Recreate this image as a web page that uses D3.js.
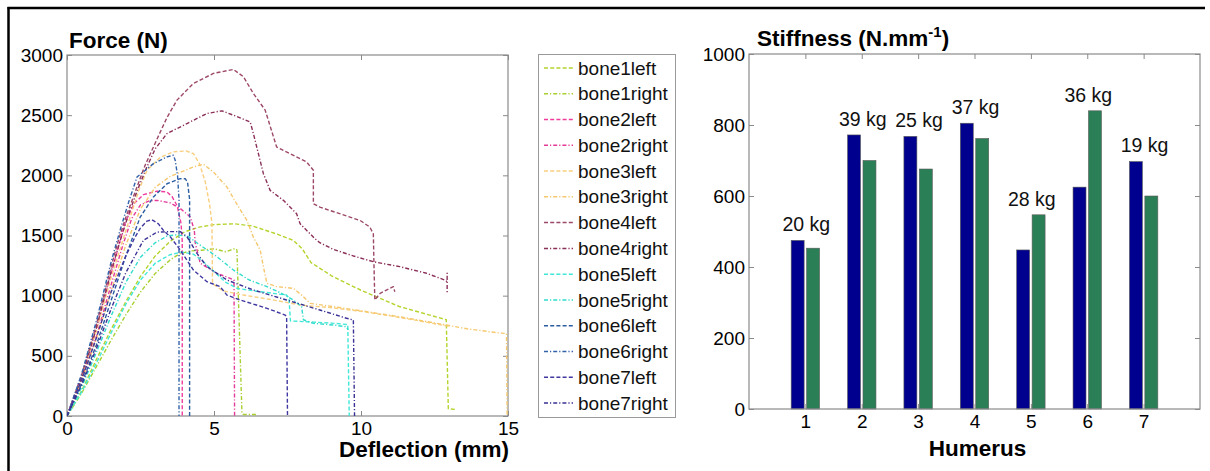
<!DOCTYPE html>
<html><head><meta charset="utf-8">
<script src="https://cdn.jsdelivr.net/npm/d3@7"></script>
<style>
html,body{margin:0;padding:0;background:#fff;}
svg{display:block;font-family:"Liberation Sans",Arial,sans-serif;}
</style></head>
<body>
<svg id="chart" width="1210" height="471"></svg>
<script>
// ---------------- DATA ----------------
const deflectionTicks = [0, 5, 10, 15];
const forceTicks = [0, 500, 1000, 1500, 2000, 2500, 3000];
const boneNames = ["bone1left","bone1right","bone2left","bone2right","bone3left","bone3right","bone4left","bone4right","bone5left","bone5right","bone6left","bone6right","bone7left","bone7right"];

// [deflection (mm), force (N)]
const bone1left = [[0,0],[0.5,210],[1,470],[1.5,720],[2,950],[2.5,1160],[3,1330],[3.5,1450],[4,1530],[4.5,1570],[5,1590],[5.7,1597],[6.3,1580],[7.1,1515],[7.7,1460],[8.0,1390],[8.3,1275],[9.0,1165],[10,1045],[11.3,910],[12.9,800],[12.97,60],[13.2,55]];
const bone1right = [[0,0],[0.5,190],[1,410],[1.5,630],[2,840],[2.5,1030],[3,1185],[3.5,1295],[3.8,1345],[4.2,1372],[4.6,1378],[5.0,1390],[5.4,1365],[5.72,1392],[5.78,1380],[5.95,25],[6.0,12],[6.47,12]];
const bone2left = [[0,0],[0.5,330],[1,720],[1.5,1180],[1.8,1450],[2.0,1620],[2.3,1770],[2.6,1840],[3.06,1868],[3.4,1862],[3.57,1825],[3.75,1745],[3.88,1600],[3.92,1450],[3.92,0]];
const bone2right = [[0,0],[0.5,300],[1,660],[1.5,1090],[1.9,1420],[2.2,1640],[2.5,1755],[2.8,1788],[3.06,1792],[3.5,1772],[3.85,1725],[4.19,1655],[4.33,1545],[4.36,1440],[4.53,1270],[5.1,1186],[5.55,1144],[5.68,1130],[5.70,0]];
const bone3left = [[0,0],[0.5,320],[1,710],[1.5,1150],[2.0,1540],[2.45,1880],[2.72,2040],[3.17,2150],[3.62,2195],[4.05,2203],[4.3,2180],[4.5,2100],[4.7,1950],[4.85,1760],[4.93,1600],[4.95,1100],[5.3,1040],[6.0,1005],[7.0,965],[8.0,920],[9.0,900],[10,870],[11,832],[12,790],[13,745]];
const bone3right = [[0,0],[0.5,290],[1,640],[1.5,1040],[2,1420],[2.5,1720],[3.0,1900],[3.5,1990],[4.0,2040],[4.3,2070],[4.64,2092],[4.98,2028],[5.44,1903],[5.77,1764],[6.12,1625],[6.34,1486],[6.57,1380],[6.68,1241],[6.8,1103],[7.13,1075],[7.7,1061],[8.04,992],[8.27,936],[9.06,909],[10.2,867],[11.3,825],[12.46,775],[13.6,725],[14.7,690],[14.95,685],[14.97,0]];
const bone4left = [[0,0],[0.5,340],[1,760],[1.5,1240],[1.76,1470],[2.0,1650],[2.3,1850],[2.65,2080],[3.06,2300],[3.4,2480],[3.74,2625],[4.3,2764],[4.98,2847],[5.66,2880],[6.0,2820],[6.34,2680],[6.74,2542],[7.13,2236],[7.59,2180],[8.15,2111],[8.38,2042],[8.38,1764],[8.6,1736],[9.97,1625],[10.3,1570],[10.42,1514],[10.44,1269],[10.47,964],[10.65,1019],[11.1,1075],[11.15,1033]];
const bone4right = [[0,0],[0.5,320],[1,730],[1.5,1200],[1.8,1450],[2.1,1680],[2.4,1880],[2.7,2060],[3.0,2220],[3.4,2347],[4.08,2430],[4.76,2514],[5.27,2536],[5.66,2500],[6.23,2444],[6.34,2347],[6.68,2014],[6.91,1875],[7.36,1792],[7.81,1681],[7.93,1597],[8.44,1472],[8.6,1440],[9.06,1385],[9.74,1330],[10.42,1282],[11.32,1241],[12.23,1186],[12.85,1130],[12.93,1116],[12.93,1186],[12.93,1020]];
const bone5left = [[0,0],[0.5,200],[1,440],[1.5,690],[2,930],[2.5,1130],[3,1270],[3.5,1340],[3.9,1362],[4.3,1345],[4.6,1290],[5.0,1200],[5.4,1110],[5.8,1060],[6.5,1035],[7.47,1005],[7.55,980],[7.6,790],[8.4,780],[9.0,772],[9.55,760],[9.6,0]];
const bone5right = [[0,0],[0.5,240],[1,530],[1.5,830],[2,1110],[2.5,1320],[3,1440],[3.4,1495],[3.7,1505],[4.1,1495],[4.53,1420],[5.1,1324],[5.66,1213],[6.2,1130],[6.8,1075],[7.3,1020],[7.7,964],[7.98,909],[8.04,800],[8.38,770],[9.06,756],[9.5,742],[9.57,715]];
const bone6left = [[0,0],[0.5,270],[1,590],[1.5,960],[2.0,1330],[2.49,1653],[2.94,1820],[3.4,1930],[3.85,1972],[4.02,1972],[4.1,1944],[4.17,1800],[4.17,0]];
const bone6right = [[0,0],[0.5,350],[1,790],[1.5,1280],[1.8,1540],[2.1,1780],[2.38,1986],[2.94,2097],[3.4,2153],[3.62,2167],[3.68,2125],[3.76,2000],[3.81,1800],[3.81,0]];
const bone7left = [[0,0],[0.5,300],[1,650],[1.5,1030],[2,1330],[2.3,1480],[2.49,1560],[2.72,1620],[2.89,1631],[3.11,1597],[3.28,1542],[3.4,1514],[3.51,1490],[3.85,1380],[4.3,1213],[4.76,1116],[5.21,1075],[5.44,1005],[5.89,964],[6.8,895],[7.42,839],[7.47,825],[7.5,0]];
const bone7right = [[0,0],[0.5,260],[1,560],[1.5,890],[2,1190],[2.6,1460],[3.06,1528],[3.5,1532],[3.85,1532],[4.08,1490],[4.42,1352],[4.76,1241],[5.44,1130],[6.34,1047],[7.47,964],[8.6,881],[9.51,812],[9.74,798],[9.78,0]];

const humerus = [1, 2, 3, 4, 5, 6, 7];
const stiffnessLeft = [475, 772, 768, 805, 448, 625, 697];
const stiffnessRight = [453, 700, 676, 762, 547, 840, 600];
const massLabels = ["20 kg", "39 kg", "25 kg", "37 kg", "28 kg", "36 kg", "19 kg"];
const stiffnessTicks = [0, 200, 400, 600, 800, 1000];

// ---------------- STYLES ----------------
const boneColors = ["#b4d42c","#a8d030","#f03c9c","#e43a98","#f8cf7e","#f5c86e","#9c4868","#8a2f58","#40e8d8","#30dccc","#2c5ca0","#3262aa","#4038a0","#3a3294"];
const dashed = "4,2.2";
const dashDot = "4,2,1.2,2";
const axisGray = "#8a8a8a";

const curves = [bone1left,bone1right,bone2left,bone2right,bone3left,bone3right,bone4left,bone4right,bone5left,bone5right,bone6left,bone6right,bone7left,bone7right];

const svg = d3.select("#chart");

// outer frame
svg.append("line").attr("x1",8.5).attr("x2",8.5).attr("y1",7).attr("y2",471).attr("stroke","#000").attr("stroke-width",2.5);
svg.append("line").attr("x1",7.5).attr("x2",1205).attr("y1",8).attr("y2",8).attr("stroke","#000").attr("stroke-width",2.5);

// ---------------- LEFT CHART ----------------
const L = {x0:67, x1:508, y0:55, y1:416};
const xL = d3.scaleLinear().domain([0,15]).range([L.x0,L.x1]);
const yL = d3.scaleLinear().domain([0,3000]).range([L.y1,L.y0]);

const gL = svg.append("g");
gL.append("clipPath").attr("id","clipL").append("rect")
  .attr("x",L.x0).attr("y",L.y0-2).attr("width",L.x1-L.x0+2).attr("height",L.y1-L.y0+2);

gL.append("rect").attr("x",L.x0).attr("y",L.y0).attr("width",L.x1-L.x0).attr("height",L.y1-L.y0)
  .attr("fill","none").attr("stroke",axisGray).attr("stroke-width",1.2);

const axBL = gL.append("g").attr("transform",`translate(0,${L.y1})`)
  .call(d3.axisBottom(xL).tickValues(deflectionTicks).tickSize(-5).tickPadding(5).tickFormat(d3.format("d")));
const axTL = gL.append("g").attr("transform",`translate(0,${L.y0})`)
  .call(d3.axisTop(xL).tickValues(deflectionTicks).tickSize(-5).tickFormat(""));
const axLL = gL.append("g").attr("transform",`translate(${L.x0},0)`)
  .call(d3.axisLeft(yL).tickValues(forceTicks).tickSize(-5).tickPadding(4).tickFormat(d3.format("d")));
const axRL = gL.append("g").attr("transform",`translate(${L.x1},0)`)
  .call(d3.axisRight(yL).tickValues(forceTicks).tickSize(-5).tickFormat(""));

[axBL,axTL,axLL,axRL].forEach(a=>{
  a.select(".domain").remove();
  a.selectAll(".tick line").attr("stroke",axisGray).attr("stroke-width",1);
  a.selectAll(".tick text").attr("fill","#000").style("font-size","19px").style("font-family","'Liberation Sans',Arial,sans-serif");
});
axBL.selectAll(".tick text").attr("dy","0.7em").attr("y",6);

const line = d3.line().x(d=>xL(d[0])).y(d=>yL(d[1]));
const curveG = gL.append("g").attr("clip-path","url(#clipL)");
curves.forEach((c,i)=>{
  curveG.append("path").datum(c).attr("d",line)
    .attr("fill","none").attr("stroke",boneColors[i]).attr("stroke-width",1.4)
    .attr("stroke-dasharray", i%2===0 ? dashed : dashDot)
    .attr("stroke-linejoin","round");
});

gL.append("text").attr("x",69).attr("y",48).text("Force (N)")
  .style("font-size","22.5px").style("font-weight","bold");
gL.append("text").attr("x",509).attr("y",457).attr("text-anchor","end").text("Deflection (mm)")
  .style("font-size","22.5px").style("font-weight","bold");

// legend
const lg = svg.append("g");
lg.append("rect").attr("x",538.5).attr("y",54.5).attr("width",137).attr("height",363)
  .attr("fill","#fff").attr("stroke","#9a9a9a").attr("stroke-width",1);
const legY = d3.scaleLinear().domain([0,13]).range([68,403]);
boneNames.forEach((n,i)=>{
  const y = legY(i);
  lg.append("line").attr("x1",544).attr("x2",573).attr("y1",y).attr("y2",y)
    .attr("stroke",boneColors[i]).attr("stroke-width",1.5)
    .attr("stroke-dasharray", i%2===0 ? dashed : dashDot);
  lg.append("text").attr("x",578).attr("y",y).attr("dy","0.35em").text(n)
    .style("font-size","19px").attr("fill","#111");
});

// ---------------- RIGHT CHART ----------------
const R = {x0:749, x1:1200, y0:54, y1:409};
const xR = d3.scaleLinear().domain([0,8]).range([R.x0,R.x1]);
const yR = d3.scaleLinear().domain([0,1000]).range([R.y1,R.y0]);
const gR = svg.append("g");

const barW = 0.23, off = 0.137;
gR.selectAll("rect.bl").data(humerus).enter().append("rect")
  .attr("x",d=>xR(d-off-barW/2)).attr("width",xR(barW)-xR(0))
  .attr("y",(d,i)=>yR(stiffnessLeft[i])).attr("height",(d,i)=>yR(0)-yR(stiffnessLeft[i]))
  .attr("fill","#00008f").attr("stroke","#5a5a5a").attr("stroke-width",0.6);
gR.selectAll("rect.gr").data(humerus).enter().append("rect")
  .attr("x",d=>xR(d+off-barW/2)).attr("width",xR(barW)-xR(0))
  .attr("y",(d,i)=>yR(stiffnessRight[i])).attr("height",(d,i)=>yR(0)-yR(stiffnessRight[i]))
  .attr("fill","#2b7f57").attr("stroke","#5a5a5a").attr("stroke-width",0.6);

gR.append("rect").attr("x",R.x0).attr("y",R.y0).attr("width",R.x1-R.x0).attr("height",R.y1-R.y0)
  .attr("fill","none").attr("stroke",axisGray).attr("stroke-width",1.2);

const axBR = gR.append("g").attr("transform",`translate(0,${R.y1})`)
  .call(d3.axisBottom(xR).tickValues(humerus).tickSize(-5).tickPadding(5).tickFormat(d3.format("d")));
const axTR = gR.append("g").attr("transform",`translate(0,${R.y0})`)
  .call(d3.axisTop(xR).tickValues(humerus).tickSize(-5).tickFormat(""));
const axLR = gR.append("g").attr("transform",`translate(${R.x0},0)`)
  .call(d3.axisLeft(yR).tickValues(stiffnessTicks).tickSize(-5).tickPadding(4).tickFormat(d3.format("d")));
const axRR = gR.append("g").attr("transform",`translate(${R.x1},0)`)
  .call(d3.axisRight(yR).tickValues(stiffnessTicks).tickSize(-5).tickFormat(""));
[axBR,axTR,axLR,axRR].forEach(a=>{
  a.select(".domain").remove();
  a.selectAll(".tick line").attr("stroke",axisGray).attr("stroke-width",1);
  a.selectAll(".tick text").attr("fill","#000").style("font-size","19px").style("font-family","'Liberation Sans',Arial,sans-serif");
});
axBR.selectAll(".tick text").attr("dy","0.7em").attr("y",6);

gR.selectAll("text.mass").data(humerus).enter().append("text")
  .attr("x",d=>xR(d)+1).attr("y",(d,i)=>yR(Math.max(stiffnessLeft[i],stiffnessRight[i]))-16)
  .attr("dy","0.35em").attr("text-anchor","middle").text((d,i)=>massLabels[i])
  .style("font-size","19.5px").attr("fill","#111");

const st = gR.append("text").attr("x",757).attr("y",46).style("font-size","22.5px").style("font-weight","bold");
st.append("tspan").text("Stiffness (N.mm");
st.append("tspan").attr("dy",-9).style("font-size","15px").text("-1");
st.append("tspan").attr("dy",9).text(")");

gR.append("text").attr("x",xR(4)+3).attr("y",456).attr("text-anchor","middle").text("Humerus")
  .style("font-size","22.5px").style("font-weight","bold");
</script>
</body></html>
